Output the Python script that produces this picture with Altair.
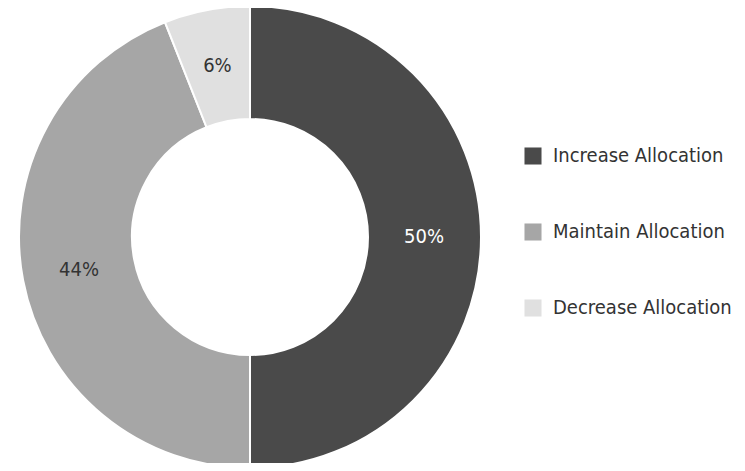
import altair as alt
import pandas as pd

categories = ["Increase Allocation", "Maintain Allocation", "Decrease Allocation"]
values = [50, 44, 6]
labels = ["50%", "44%", "6%"]
colors = ["#4a4a4a", "#a6a6a6", "#e0e0e0"]
label_colors = ["#ffffff", "#333333", "#333333"]

df = pd.DataFrame({"cat": categories, "val": values, "label": labels,
                   "lc": label_colors, "ord": [0, 1, 2]})

FONT = "Liberation Sans Narrow, DejaVu Sans Condensed, Open Sans"

base = alt.Chart(df).encode(
    theta=alt.Theta("val:Q", stack=True),
    order=alt.Order("ord:Q"),
    x=alt.value(242),
    y=alt.value(229),
)

arcs = base.mark_arc(outerRadius=231, innerRadius=118, stroke="white", strokeWidth=2).encode(
    color=alt.Color(
        "cat:N",
        scale=alt.Scale(domain=categories, range=colors),
        sort=categories,
        legend=alt.Legend(
            title=None,
            orient="none",
            legendX=515,
            legendY=138,
            symbolType="square",
            symbolSize=290,
            symbolStrokeWidth=0,
            labelFont=FONT,
            labelFontSize=20,
            labelColor="#333333",
            labelLimit=300,
            rowPadding=56,
            labelOffset=10,
        ),
    )
)

text = base.mark_text(radius=174, font=FONT, fontSize=20).encode(
    text="label:N",
    color=alt.Color("lc:N", scale=None),
)

chart = (
    (arcs + text)
    .properties(width=729, height=455, padding=0, autosize=alt.AutoSizeParams(type="none"))
    .configure_view(stroke=None)
)

chart.save("out.html", embed_options={"renderer": "svg", "actions": False})
